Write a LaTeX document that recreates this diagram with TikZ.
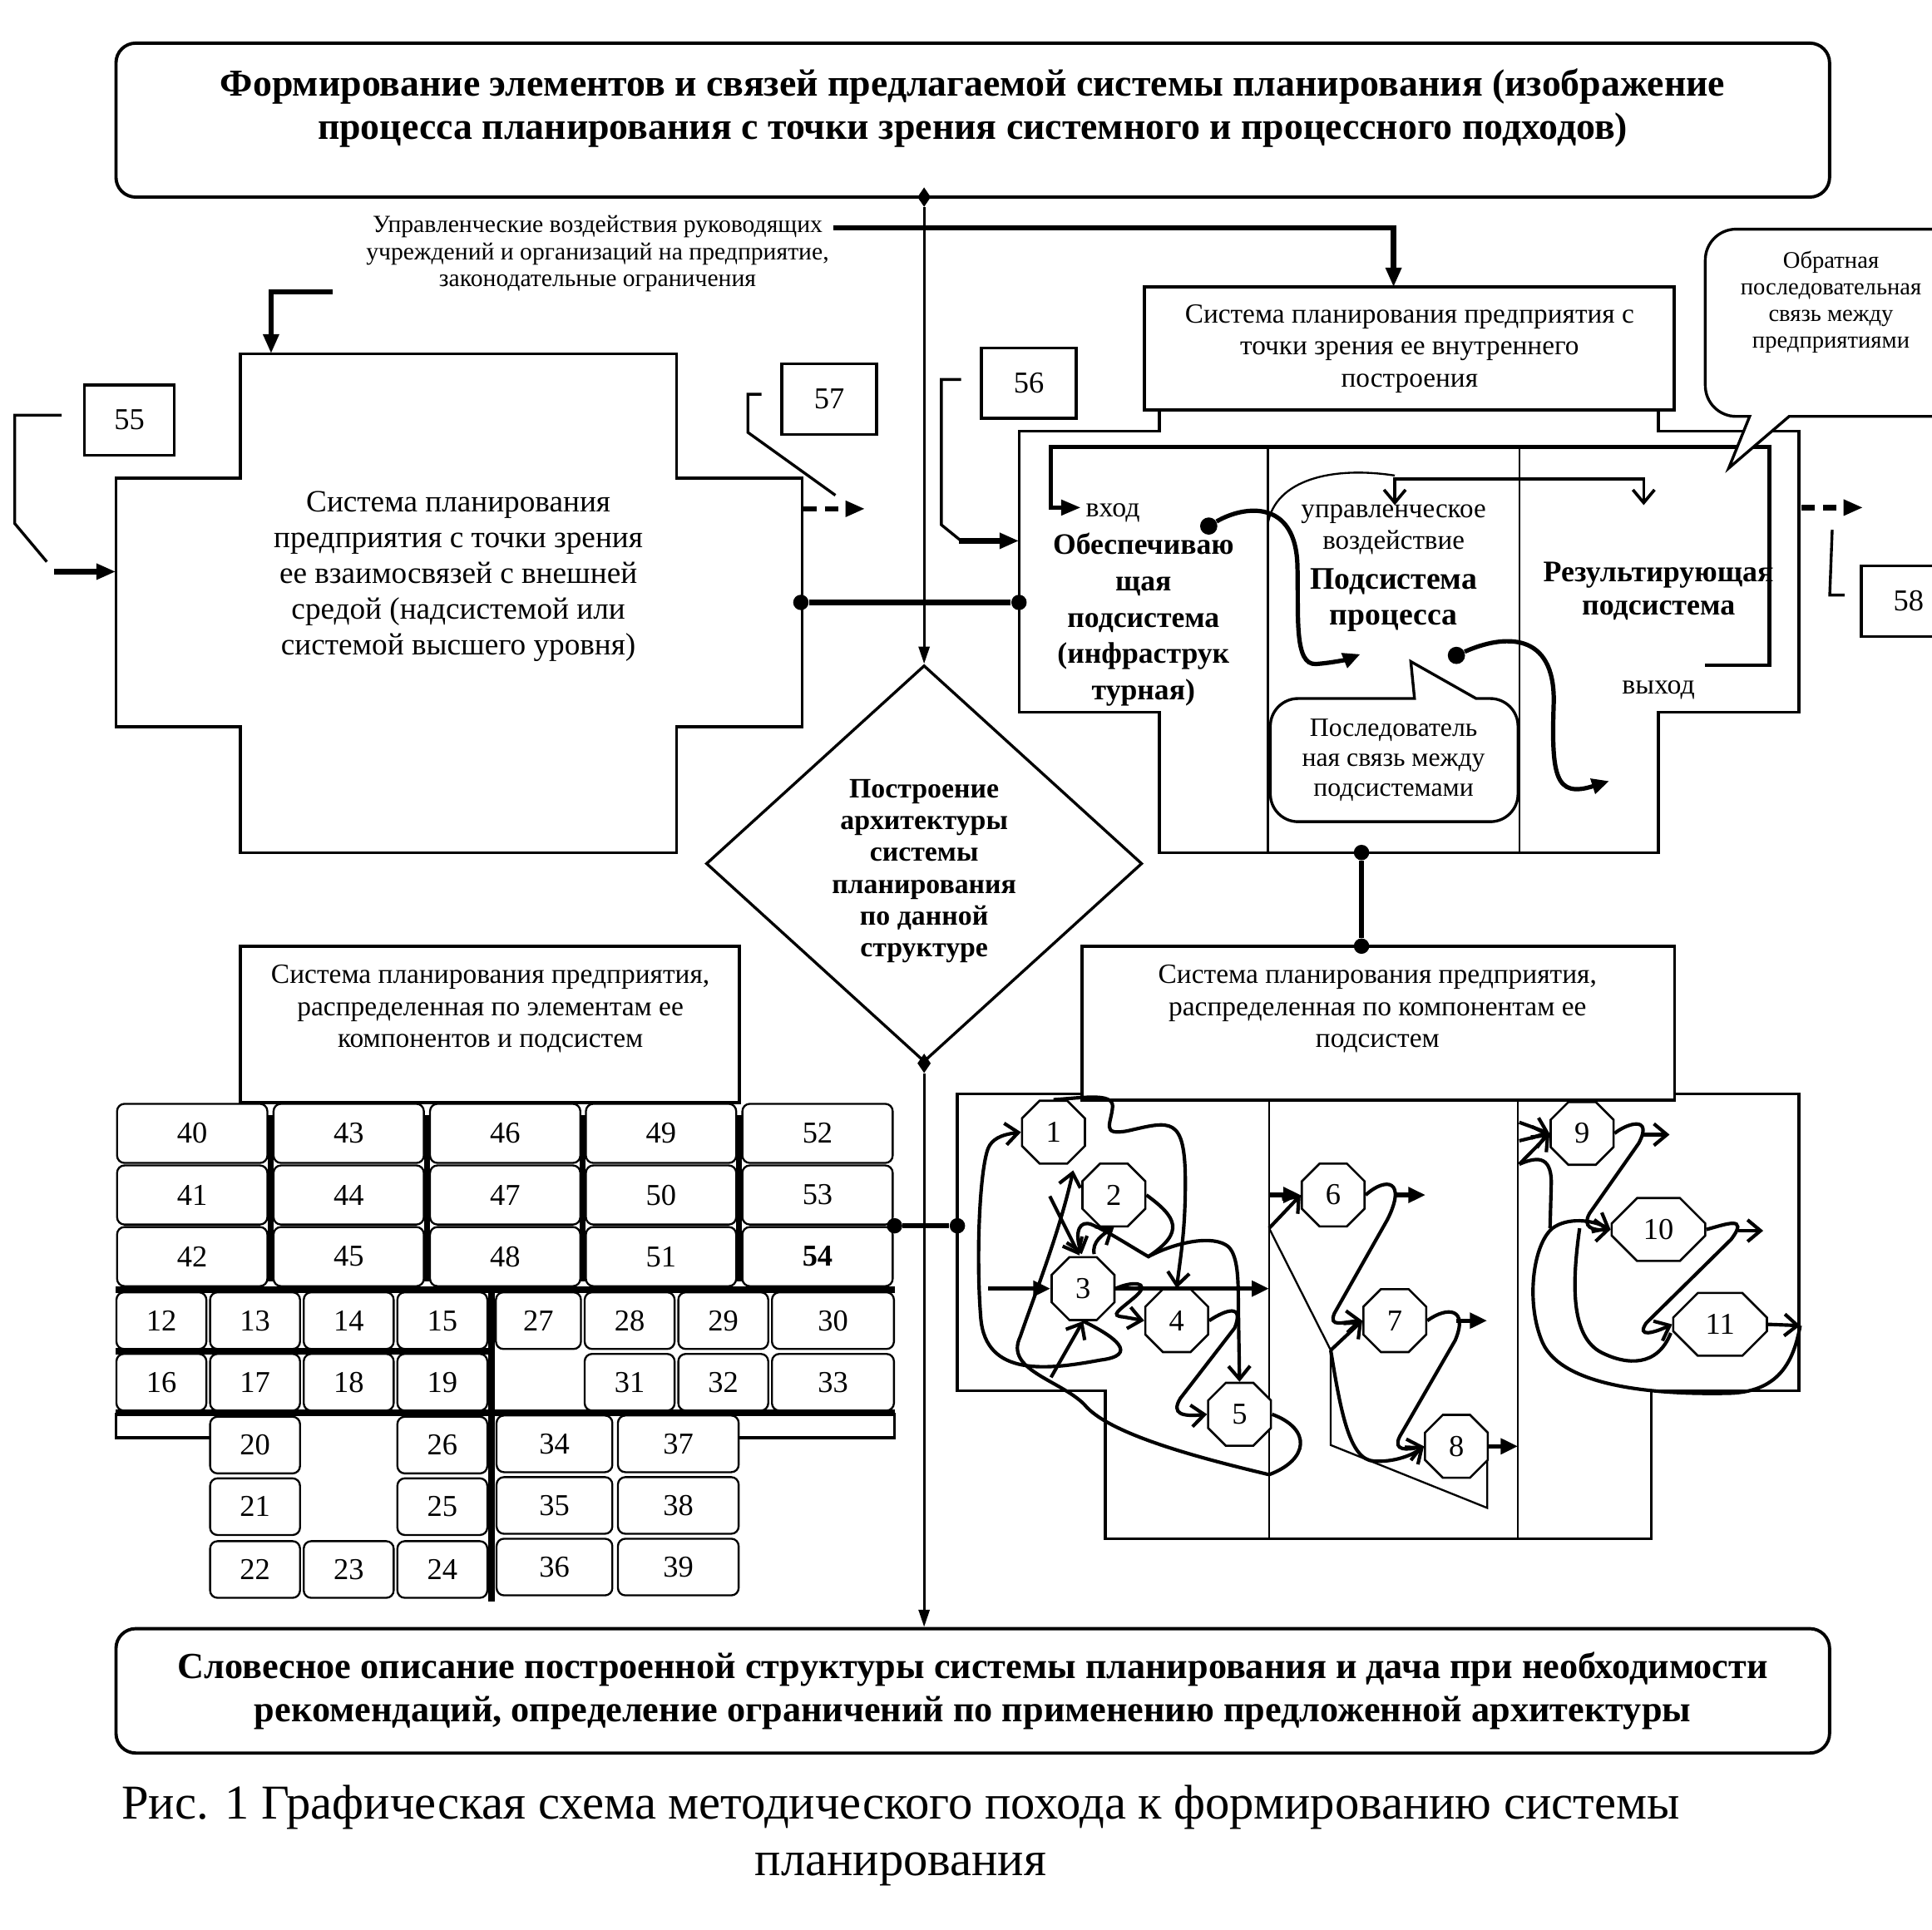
\documentclass[tikz,border=0pt]{standalone}
\usepackage{fontspec}
\setmainfont{Liberation Serif}
\usetikzlibrary{arrows.meta,shapes.geometric,shapes.misc,positioning}
\tikzstyle{schema}=[
    x=0.02cm, y=-0.02cm,
    >={Triangle[length=9pt,width=7pt]},
    line join=miter,
]
\tikzstyle{rbox}=[draw, line width=1.5pt, rounded corners=0.32cm, inner sep=0pt, align=center,
    font=\bfseries\fontsize{17}{20}\selectfont]
\tikzstyle{sqbox}=[draw, line width=1.3pt, inner sep=0pt, align=center]
\tikzstyle{outline}=[line width=1.3pt]
\tikzstyle{thinl}=[line width=0.9pt]
\tikzstyle{heavy}=[line width=2.4pt]
\tikzstyle{mainline}=[line width=1.2pt, -{Triangle[length=8pt,width=5pt]}]
\tikzstyle{flow}=[line width=2pt, -{Triangle[length=8pt,width=7pt]}]
\tikzstyle{vlink}=[line width=1.6pt, -{Straight Barb[length=6pt,width=10pt]}]
\tikzstyle{txt}=[align=center, inner sep=0pt]
\tikzstyle{numbox}=[draw, line width=1.3pt, minimum width=1.5cm, minimum height=1.14cm,
    font=\fontsize{14}{14}\selectfont]
\tikzstyle{cell}=[draw, line width=0.9pt, rounded corners=0.12cm, inner sep=0pt,
    font=\fontsize{14}{14}\selectfont]
\tikzstyle{octa}=[draw, line width=1pt, chamfered rectangle, chamfered rectangle xsep=0.3cm,
    chamfered rectangle ysep=0.3cm, inner sep=0pt, minimum width=1.02cm, minimum height=1.02cm,
    fill=white, font=\fontsize{14}{14}\selectfont]
\tikzstyle{blob}=[circle, fill, inner sep=0pt, minimum size=0.25cm]
\tikzstyle{dmark}=[diamond, fill, inner sep=0pt, minimum width=0.22cm, minimum height=0.32cm]

\begin{document}
\begin{tikzpicture}[schema]
        \useasboundingbox (0,0) rectangle (1568,1566);
        \node (top) at (789.5,97.5) [rbox, minimum width=27.82cm, minimum height=2.5cm] {};
        \node (toptxt) at (789.5,88) [txt, font=\bfseries\fontsize{17.6}{20}\selectfont] {Формирование элементов и связей предлагаемой системы планирования (изображение\\процесса планирования с точки зрения системного и процессного подходов)};
        \node (bot) at (789.5,1372.5) [rbox, minimum width=27.82cm, minimum height=2.02cm] {Словесное описание построенной структуры системы планирования и дача при необходимости\\рекомендаций, определение ограничений по применению предложенной архитектуры};
        \node (capt) at (731,1490) [txt, font=\fontsize{22.5}{26}\selectfont] {Рис. 1 Графическая схема методического похода к формированию системы\\планирования};

        \node (ctl) at (485,206) [txt, font=\fontsize{11.4}{12.6}\selectfont] {Управленческие воздействия руководящих\\учреждений и организаций на предприятие,\\законодательные ограничения};
        \draw[heavy,->] (676,185) -| (1131,233);
        \draw[heavy,->] (270,237) -| (220,287);

        \draw[outline] (195,287) -- (549,287) -- (549,388) -- (651,388) -- (651,590) -- (549,590) -- (549,692)
            -- (195,692) -- (195,590) -- (94,590) -- (94,388) -- (195,388) -- cycle;
        \node (ext) at (372,468) [txt, font=\fontsize{14.3}{16.5}\selectfont] {Система планирования\\предприятия с точки зрения\\ее взаимосвязей с внешней\\средой (надсистемой или\\системой высшего уровня)};

        \node (b55) at (105,341) [numbox, minimum width=1.46cm] {55};
        \node (b57) at (673,324) [numbox, minimum width=1.54cm] {57};
        \node (b56) at (835,311) [numbox, minimum width=1.54cm] {56};
        \node (b58) at (1549,488) [numbox, minimum width=1.54cm] {58};
        \draw[outline] (50,337) -- (12,337) -- (12,425) -- (38,456);
        \draw[heavy,->] (44,464) -- (94,464);
        \draw[outline] (618,320) -- (607,320) -- (607,351) -- (678,402);
        \draw[heavy,dash pattern=on 6pt off 4pt,->] (652,413) -- (702,413);
        \draw[outline] (780,308) -- (764,308) -- (764,426) -- (780,439);
        \draw[heavy,->] (778,439) -- (827,439);
        \draw[heavy,dash pattern=on 6pt off 4pt,->] (1462,412) -- (1512,412);
        \draw[outline] (1487,430) -- (1485,483) -- (1497,483);

        \draw[outline] (941,333) -- (941,350) -- (827,350) -- (827,578) -- (941,578) -- (941,692) -- (1346,692)
            -- (1346,578) -- (1460,578) -- (1460,350) -- (1346,350) -- (1346,333);
        \node (inbox) at (1144,283) [sqbox, line width=1.6pt, minimum width=8.6cm, minimum height=2cm,
            font=\fontsize{12.8}{14.8}\selectfont] {Система планирования предприятия с\\точки зрения ее внутреннего\\построения};
        \draw[thinl] (1029,363) -- (1029,692) (1233,363) -- (1233,692);
        \draw[line width=1.8pt,->] (1384,540) -- (1436,540) -- (1436,363) -- (853,363) -- (853,412) -- (877,412);
        \node (vhod) at (881,416) [anchor=west, inner sep=0pt, font=\fontsize{13}{14}\selectfont] {вход};
        \node (obes) at (928,503) [txt, font=\bfseries\fontsize{13.7}{16.8}\selectfont] {Обеспечиваю\\щая\\подсистема\\(инфраструк\\турная)};
        \node (upr) at (1131,430) [txt, font=\fontsize{12.7}{14.7}\selectfont] {управленческое\\воздействие};
        \node (podp) at (1131,487) [txt, font=\bfseries\fontsize{14.5}{16.5}\selectfont] {Подсистема\\процесса};
        \node (rez) at (1346,480) [txt, font=\bfseries\fontsize{13.8}{15.3}\selectfont] {Результирующая\\подсистема};
        \node (vyhod) at (1346,560) [txt, font=\fontsize{13}{14}\selectfont] {выход};
        \draw[thinl] (1029,425) .. controls (1035,390) and (1080,378) .. (1132,386);
        \draw[line width=1.4pt, {Straight Barb[length=6pt,width=10pt]}-{Straight Barb[length=6pt,width=10pt]}]
            (1132,410) -- (1132,389) -- (1334,389) -- (1334,410);
        \draw[outline, fill=white] (1145,537) -- (1148,567) [rounded corners=0.45cm] -- (1031,567) -- (1031,667)
            -- (1232,667) -- (1232,567) [sharp corners] -- (1198,567) -- cycle;
        \node (sq) at (1131,617) [txt, font=\fontsize{12.2}{13.9}\selectfont] {Последователь\\ная связь между\\подсистемами};
        \node (sd1) at (981,427) [blob, minimum size=0.28cm] {};
        \draw[flow] (sd1) .. controls (1010,410) and (1052,405) .. (1053,460) .. controls (1054,500) and (1050,540) .. (1068,539)
            .. controls (1082,538) and (1094,535) .. (1104,531);
        \node (sd2) at (1182,532) [blob, minimum size=0.28cm] {};
        \draw[flow] (sd2) .. controls (1220,515) and (1262,512) .. (1261,570) .. controls (1259,630) and (1262,648) .. (1306,634);
        \draw[outline, fill=white] (1403,380) -- (1420,338) [rounded corners=0.5cm] -- (1384,338) -- (1384,186)
            -- (1600,186) -- (1600,338) [sharp corners] -- (1452,338) -- cycle;
        \node (fb) at (1486,245) [txt, font=\fontsize{11}{12.3}\selectfont] {Обратная\\последовательная\\связь между\\предприятиями};

        \node (pL) at (650,489) [blob] {};
        \node (pR) at (827,489) [blob] {};
        \draw[heavy] (pL) -- (pR);
        \node (pU) at (1105,692) [blob] {};
        \node (pD) at (1105,768) [blob] {};
        \draw[heavy] (pU) -- (pD);

        \node (diam) at (750,701) [diamond, draw, line width=1.3pt, minimum width=7.08cm, minimum height=6.44cm,
            inner sep=0pt] {};
        \node (diamtxt) at (750,707) [txt, font=\bfseries\fontsize{13}{14.7}\selectfont] {Построение\\архитектуры\\системы\\планирования\\по данной\\структуре};
        \node (mk1) at (750,160) [dmark] {};
        \draw[mainline] (mk1) -- (diam.north);
        \node (mk2) at (diam.south) [dmark] {};
        \draw[mainline] (mk2) -- (mk2 |- bot.north);

        \node (elbox) at (397.5,831.5) [sqbox, minimum width=8.1cm, minimum height=2.54cm] {};
        \node (eltxt) at (398,819) [txt, font=\fontsize{12.85}{14.8}\selectfont] {Система планирования предприятия,\\распределенная по элементам ее\\компонентов и подсистем};
        \node (compbox) at (1118.5,830.5) [sqbox, minimum width=9.62cm, minimum height=2.5cm] {};
        \node (comptxt) at (1118,819) [txt, font=\fontsize{12.85}{14.8}\selectfont] {Система планирования предприятия,\\распределенная по компонентам ее\\подсистем};

        \foreach \c/\x in {0/156,1/283,2/410,3/536.5,4/663.5}
            \foreach \r/\y in {0/920,1/970,2/1020}
            {\pgfmathtruncatemacro\n{40+3*\c+\r}
             \node (c\n) at (\x,\y) [cell, minimum width=2.44cm, minimum height=0.96cm] {\ifnum\n=54\relax\bfseries\fi\n};}
        \foreach \n/\x/\y in {12/131/1072,13/207/1072,14/283/1072,15/359/1072,16/131/1122,17/207/1122,18/283/1122,
            19/359/1122,20/207/1173,21/207/1223,22/207/1274,23/283/1274,24/359/1274,25/359/1223,26/359/1173}
            \node (c\n) at (\x,\y) [cell, minimum width=1.46cm, minimum height=0.92cm] {\n};
        \foreach \n/\x/\y/\w in {27/437/1072/1.38,28/511/1072/1.46,29/587/1072/1.46,30/676/1072/1.98,31/511/1122/1.46,
            32/587/1122/1.46,33/676/1122/1.98,34/450/1172/1.88,35/450/1222/1.88,36/450/1272/1.88,37/550.5/1172/1.96,
            38/550.5/1222/1.96,39/550.5/1272/1.96}
            \node (c\n) at (\x,\y) [cell, minimum width=\w*1cm, minimum height=0.92cm] {\n};
        \draw[line width=2.6pt] (219.5,905) -- (219.5,1040) (346.5,905) -- (346.5,1040) (473,905) -- (473,1040)
            (599.5,905) -- (599.5,1040);
        \draw[line width=3pt] (94,1047) -- (726,1047) (94,1147) -- (726,1147) (94,1097) -- (398,1097) (399,1049) -- (399,1300);
        \draw[outline] (94,1147) -- (94,1167) -- (170,1167) (726,1147) -- (726,1167) -- (600,1167);

        \draw[outline] (878,888) -- (777,888) -- (777,1129) -- (897,1129) -- (897,1249) -- (1340,1249) -- (1340,1129)
            -- (1460,1129) -- (1460,888) -- (1359,888);
        \draw[thinl] (1030,893) -- (1030,1249) (1232,893) -- (1232,1249);
        \node (gL) at (726,995) [blob] {};
        \node (gR) at (777,995) [blob] {};
        \draw[heavy] (gL) -- (gR);

        \node (o1) at (855,919) [octa] {1};
        \node (o2) at (904,970) [octa] {2};
        \node (o3) at (879,1046) [octa] {3};
        \node (o4) at (955,1072) [octa] {4};
        \node (o5) at (1006,1148) [octa] {5};
        \node (o6) at (1082,970) [octa] {6};
        \node (o7) at (1132,1072) [octa] {7};
        \node (o8) at (1182,1174) [octa] {8};
        \node (o9) at (1284,920) [octa] {9};
        \node (o10) at (1346,998) [octa, minimum width=1.52cm] {10};
        \node (o11) at (1396,1075) [octa, minimum width=1.52cm] {11};

        \draw[flow] (802,1046) -- (o3.west);
        \draw[flow] (o3.east) -- (1030,1046);
        \draw[vlink] (o3.south) .. controls (905,1085) and (925,1100) .. (893,1104) .. controls (850,1112) and (800,1118) .. (796,1070)
            .. controls (792,1020) and (795,950) .. (802,932) .. controls (805,925) and (812,921) .. (o1.west);
        \draw[vlink] (o1.north) .. controls (880,891) and (903,887) .. (903,898) .. controls (902,912) and (893,922) .. (915,918)
            .. controls (950,910) and (962,905) .. (962,960) .. controls (962,1000) and (958,1020) .. (o4.north);
        \draw[vlink] (o2.east) .. controls (955,988) and (962,1000) .. (932,1020) .. controls (918,1012) and (900,1000) .. (886,994)
            .. controls (876,990) and (872,1000) .. (878,1018);
        \draw[vlink] (852,971) -- (876,1019);
        \draw[vlink] (888,1018) .. controls (886,1008) and (895,1002) .. (o2.south);
        \draw[vlink] (o3.east) .. controls (918,1040) and (935,1040) .. (922,1052) .. controls (908,1064) and (900,1068) .. (912,1069)
            -- (o4.west);
        \draw[vlink] (o4.east) .. controls (995,1063) and (1010,1058) .. (1002,1078) -- (958,1135) .. controls (950,1148) and (960,1150)
            .. (o5.west);
        \draw[vlink] (932,1020) .. controls (955,1008) and (985,1002) .. (997,1012) .. controls (1005,1020) and (1005,1040) .. (1005,1060)
            -- (o5.north);
        \draw[vlink] (o5.east) .. controls (1065,1160) and (1062,1185) .. (1030,1197) .. controls (980,1185) and (900,1165) .. (880,1140)
            .. controls (860,1120) and (815,1112) .. (828,1085) .. controls (840,1050) and (860,1000) .. (871,950);
        \draw[vlink] (853,1118) -- (o3.south);

        \draw[flow] (1030,970) -- (o6.west);
        \draw[vlink] (1030,997) -- (o6.west);
        \draw[thinl] (1030,997) -- (1080,1096) -- (1080,1173) -- (1207,1224) -- (1207,1186);
        \draw[vlink] (o6.east) .. controls (1125,955) and (1142,958) .. (1126,990) -- (1083,1066) .. controls (1078,1078) and (1090,1073)
            .. (o7.west);
        \draw[vlink] (1080,1096) -- (o7.west);
        \draw[flow] (1132,970) -- (1157,970);
        \draw[vlink] (o7.east) .. controls (1175,1060) and (1192,1062) .. (1181,1088) -- (1136,1166) .. controls (1130,1178) and (1142,1177)
            .. (o8.west);
        \draw[flow] (1182,1072) -- (1207,1072);
        \draw[vlink] (1080,1096) .. controls (1088,1145) and (1095,1185) .. (1115,1186) .. controls (1130,1187) and (1145,1182) .. (o8.west);
        \draw[flow] (o8.east) -- (1232,1174);

        \draw[vlink] (1233,911) -- (o9.west);
        \draw[vlink] (1233,926) -- (o9.west);
        \draw[vlink] (1233,945) -- (o9.west);
        \draw[line width=1.6pt] (1233,945) .. controls (1245,940) and (1259,936) .. (1259,960) -- (1258,997);
        \draw[vlink] (o9.east) .. controls (1320,912) and (1342,905) .. (1330,928) -- (1290,985) .. controls (1284,996) and (1292,999)
            .. (o10.west);
        \draw[vlink] (1334,921) -- (1355,921);
        \draw[vlink] (o10.east) .. controls (1400,994) and (1420,986) .. (1405,1006) -- (1336,1074) .. controls (1328,1086) and (1342,1082)
            .. (o11.west);
        \draw[vlink] (1411,999) -- (1431,999);
        \draw[vlink] (o11.east) -- (1461,1076);
        \draw[vlink] (1461,1076) .. controls (1455,1110) and (1440,1131) .. (1400,1131) .. controls (1340,1132) and (1268,1125) .. (1252,1090)
            .. controls (1238,1058) and (1244,1010) .. (1260,997) .. controls (1272,988) and (1292,990) .. (o10.west);
        \draw[line width=1.6pt] (1282,997) .. controls (1276,1040) and (1274,1085) .. (1300,1098) .. controls (1320,1108) and (1345,1110)
            .. (1356,1082);
\end{tikzpicture}
\end{document}
